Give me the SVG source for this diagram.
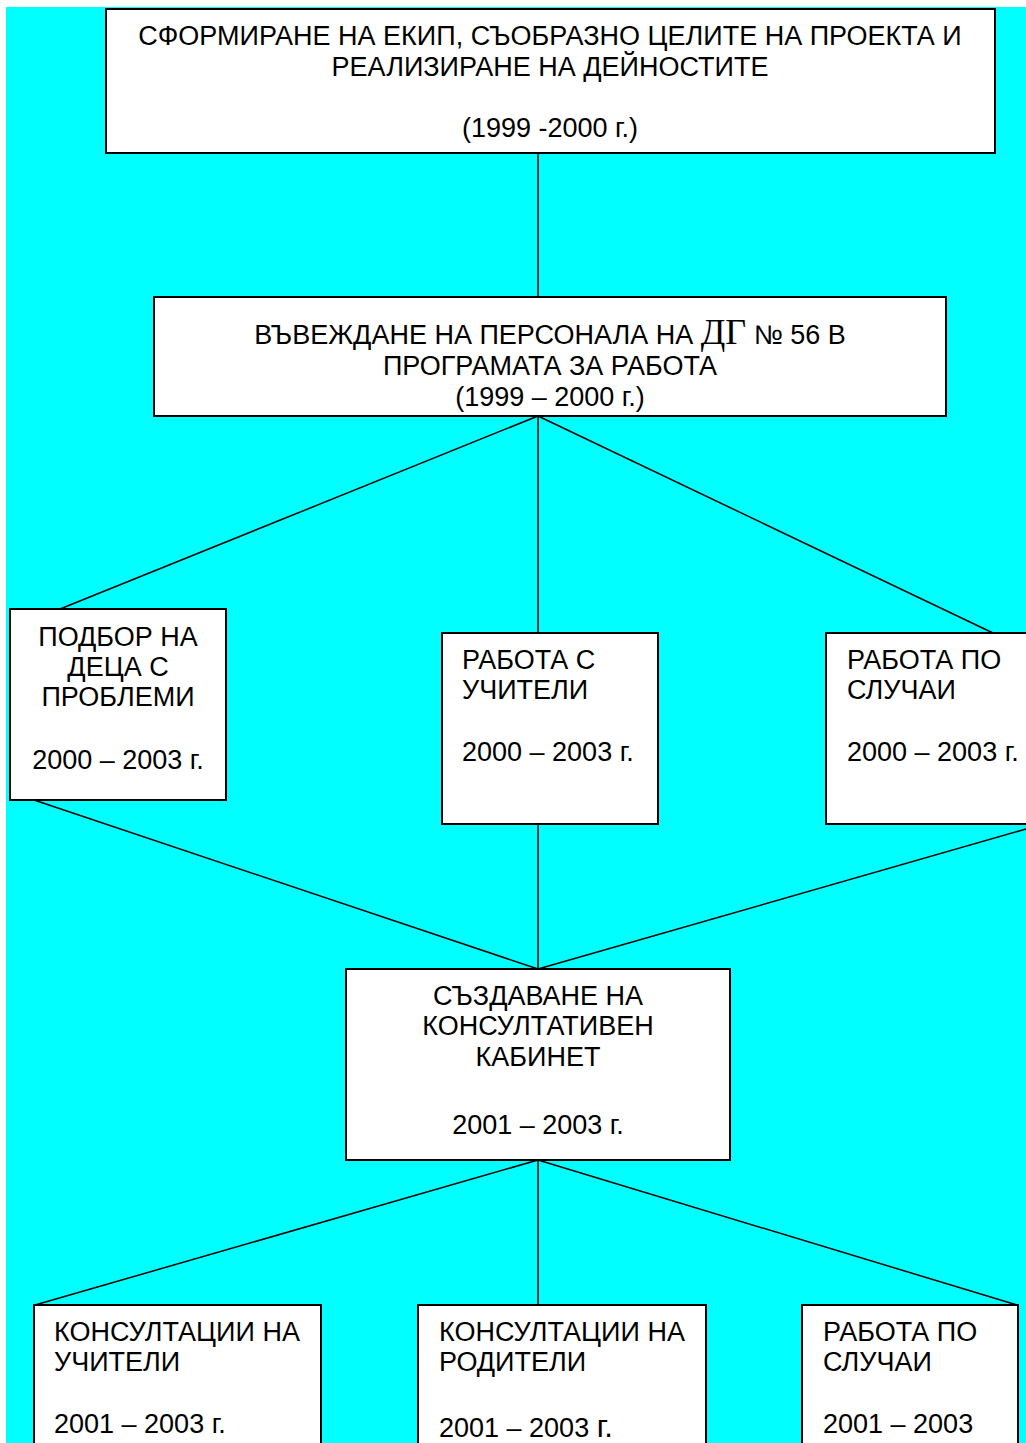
<svg xmlns="http://www.w3.org/2000/svg" width="1026" height="1443" viewBox="0 0 1026 1443">
<style>
.box{fill:#fff;stroke:#000;stroke-width:2}
.t{font-family:"Liberation Sans",Arial,sans-serif;font-size:27px;fill:#000}
.c{text-anchor:middle}
.ln{stroke:#000;stroke-width:1.5;fill:none}
</style>
<rect x="0" y="0" width="1026" height="1443" fill="#fff"/>
<rect x="6" y="7" width="1020" height="1436" fill="#00ffff"/>
<g id="connectors">
<line class="ln" x1="538" y1="153" x2="538" y2="297"/>
<line class="ln" x1="538" y1="416" x2="60" y2="609"/>
<line class="ln" x1="538" y1="416" x2="538" y2="633"/>
<line class="ln" x1="538" y1="416" x2="993" y2="633"/>
<line class="ln" x1="34" y1="800" x2="538" y2="969"/>
<line class="ln" x1="538" y1="824" x2="538" y2="969"/>
<line class="ln" x1="1026" y1="829" x2="538" y2="969"/>
<line class="ln" x1="538" y1="1160" x2="35" y2="1305"/>
<line class="ln" x1="538" y1="1160" x2="538" y2="1305"/>
<line class="ln" x1="538" y1="1160" x2="1017" y2="1305"/>
</g>
<g id="n1">
<rect class="box" x="106" y="9" width="889" height="144"/>
<text class="t c" x="550" y="45">СФОРМИРАНЕ НА ЕКИП, СЪОБРАЗНО ЦЕЛИТЕ НА ПРОЕКТА И</text>
<text class="t c" x="550" y="76">РЕАЛИЗИРАНЕ НА ДЕЙНОСТИТЕ</text>
<text class="t c" x="550" y="137">(1999 -2000 г.)</text>
</g>
<g id="n2">
<rect class="box" x="154" y="297" width="792" height="119"/>
<text class="t c" x="550" y="344">ВЪВЕЖДАНЕ НА ПЕРСОНАЛА НА <tspan font-family="'Liberation Serif','Times New Roman',serif" font-size="36">ДГ</tspan> № 56 В</text>
<text class="t c" x="550" y="375">ПРОГРАМАТА ЗА РАБОТА</text>
<text class="t c" x="550" y="406">(1999 – 2000 г.)</text>
</g>
<g id="n3">
<rect class="box" x="10" y="609" width="216" height="191"/>
<text class="t c" x="118" y="646">ПОДБОР НА</text>
<text class="t c" x="118" y="676">ДЕЦА С</text>
<text class="t c" x="118" y="706">ПРОБЛЕМИ</text>
<text class="t c" x="118" y="769">2000 – 2003 г.</text>
</g>
<g id="n4">
<rect class="box" x="442" y="633" width="216" height="191"/>
<text class="t" x="462" y="669">РАБОТА С</text>
<text class="t" x="462" y="699">УЧИТЕЛИ</text>
<text class="t" x="462" y="761">2000 – 2003 г.</text>
</g>
<g id="n5">
<rect class="box" x="826" y="633" width="210" height="191"/>
<text class="t" x="847" y="669">РАБОТА ПО</text>
<text class="t" x="847" y="699">СЛУЧАИ</text>
<text class="t" x="847" y="761">2000 – 2003 г.</text>
</g>
<g id="n6">
<rect class="box" x="346" y="969" width="384" height="191"/>
<text class="t c" x="538" y="1005">СЪЗДАВАНЕ НА</text>
<text class="t c" x="538" y="1035">КОНСУЛТАТИВЕН</text>
<text class="t c" x="538" y="1066">КАБИНЕТ</text>
<text class="t c" x="538" y="1134">2001 – 2003 г.</text>
</g>
<g id="n7">
<rect class="box" x="34" y="1305" width="287" height="150"/>
<text class="t" x="54" y="1341">КОНСУЛТАЦИИ НА</text>
<text class="t" x="54" y="1371">УЧИТЕЛИ</text>
<text class="t" x="54" y="1433">2001 – 2003 г.</text>
</g>
<g id="n8">
<rect class="box" x="418" y="1305" width="288" height="150"/>
<text class="t" x="439" y="1341">КОНСУЛТАЦИИ НА</text>
<text class="t" x="439" y="1371">РОДИТЕЛИ</text>
<text class="t" x="439" y="1437">2001 – 2003 <tspan font-size="31">г.</tspan></text>
</g>
<g id="n9">
<rect class="box" x="802" y="1305" width="216" height="150"/>
<text class="t" x="823" y="1341">РАБОТА ПО</text>
<text class="t" x="823" y="1371">СЛУЧАИ</text>
<text class="t" x="823" y="1433">2001 – 2003</text>
</g>
</svg>
